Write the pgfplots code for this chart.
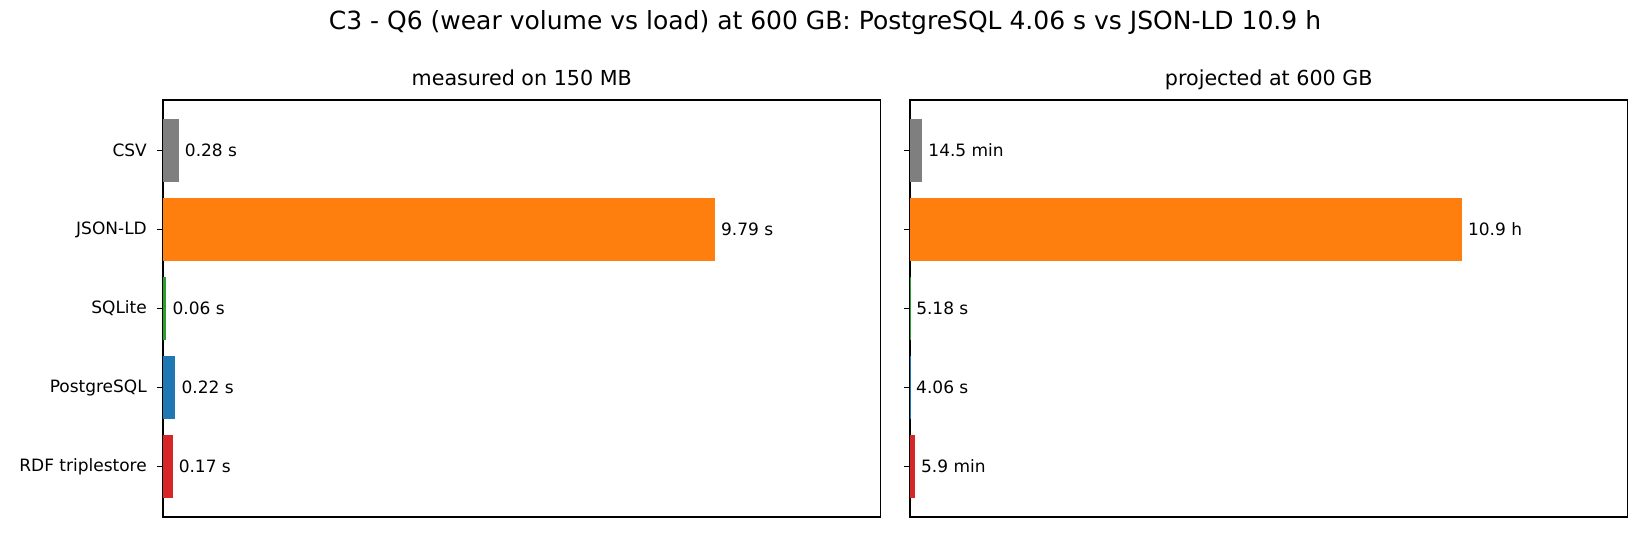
\documentclass[border=0pt]{standalone}
\usepackage{fontspec}
\setmainfont{DejaVu Sans}
\usepackage{pgfplots}
\pgfplotsset{compat=1.18}

\definecolor{tabgray}{HTML}{7F7F7F}
\definecolor{taborange}{HTML}{FF7F0E}
\definecolor{tabgreen}{HTML}{2CA02C}
\definecolor{tabblue}{HTML}{1F77B4}
\definecolor{tabred}{HTML}{D62728}

\pgfplotsset{
  runaxis/.style={
    scale only axis,
    width=430.5pt, height=250.2pt,
    anchor=south west,
    y dir=reverse,
    ymin=-0.64, ymax=4.64,
    xmin=0,
    xtick=\empty,
    ytick={0,1,2,3,4},
    ytick pos=left,
    tick align=outside,
    major tick length=3.5pt,
    axis line style={line width=0.8pt},
    every tick/.style={black, line width=0.8pt},
    yticklabel style={font=\fontsize{10.2}{12}\selectfont, inner sep=0pt, anchor=east, xshift=-6pt},
    title style={anchor=base, inner sep=0pt, at={(0.5,1)}, yshift=2.8pt,
      font=\fontsize{12.4}{14}\selectfont},
    clip=false,
  },
  valbar/.style={xbar, bar width=0.8, bar shift=0pt, draw=none, fill=#1,
    nodes near coords, point meta=explicit symbolic,
    every node near coord/.style={anchor=west, inner sep=0pt, xshift=3.5pt,
      font=\fontsize{10.2}{12}\selectfont, black}},
}

\begin{document}
\begin{tikzpicture}
\useasboundingbox (0,0) rectangle (990pt,324pt);

\node[anchor=base, inner sep=0pt, font=\fontsize{15}{18}\selectfont] at (495pt,306pt)
  {C3 - Q6 (wear volume vs load) at 600 GB: PostgreSQL 4.06 s vs JSON-LD 10.9 h};

% measured run times, seconds
\begin{axis}[runaxis,
    at={(97.8pt,13.8pt)},
    xmax=12.727,
    yticklabels={CSV,JSON-LD,SQLite,PostgreSQL,RDF triplestore},
    title={measured on 150 MB}]
\addplot[valbar=tabgray]   coordinates {(0.28,0) [0.28 s]};
\addplot[valbar=taborange] coordinates {(9.79,1) [9.79 s]};
\addplot[valbar=tabgreen]  coordinates {(0.06,2) [0.06 s]};
\addplot[valbar=tabblue]   coordinates {(0.22,3) [0.22 s]};
\addplot[valbar=tabred]    coordinates {(0.17,4) [0.17 s]};
\end{axis}

% projected run times, seconds
\begin{axis}[runaxis,
    at={(546pt,13.8pt)},
    xmax=50908,
    yticklabels={},
    title={projected at 600 GB}]
\addplot[valbar=tabgray]   coordinates {(870,0) [14.5 min]};
\addplot[valbar=taborange] coordinates {(39160,1) [10.9 h]};
\addplot[valbar=tabgreen]  coordinates {(5.18,2) [5.18 s]};
\addplot[valbar=tabblue]   coordinates {(4.06,3) [4.06 s]};
\addplot[valbar=tabred]    coordinates {(354,4) [5.9 min]};
\end{axis}
\end{tikzpicture}
\end{document}
